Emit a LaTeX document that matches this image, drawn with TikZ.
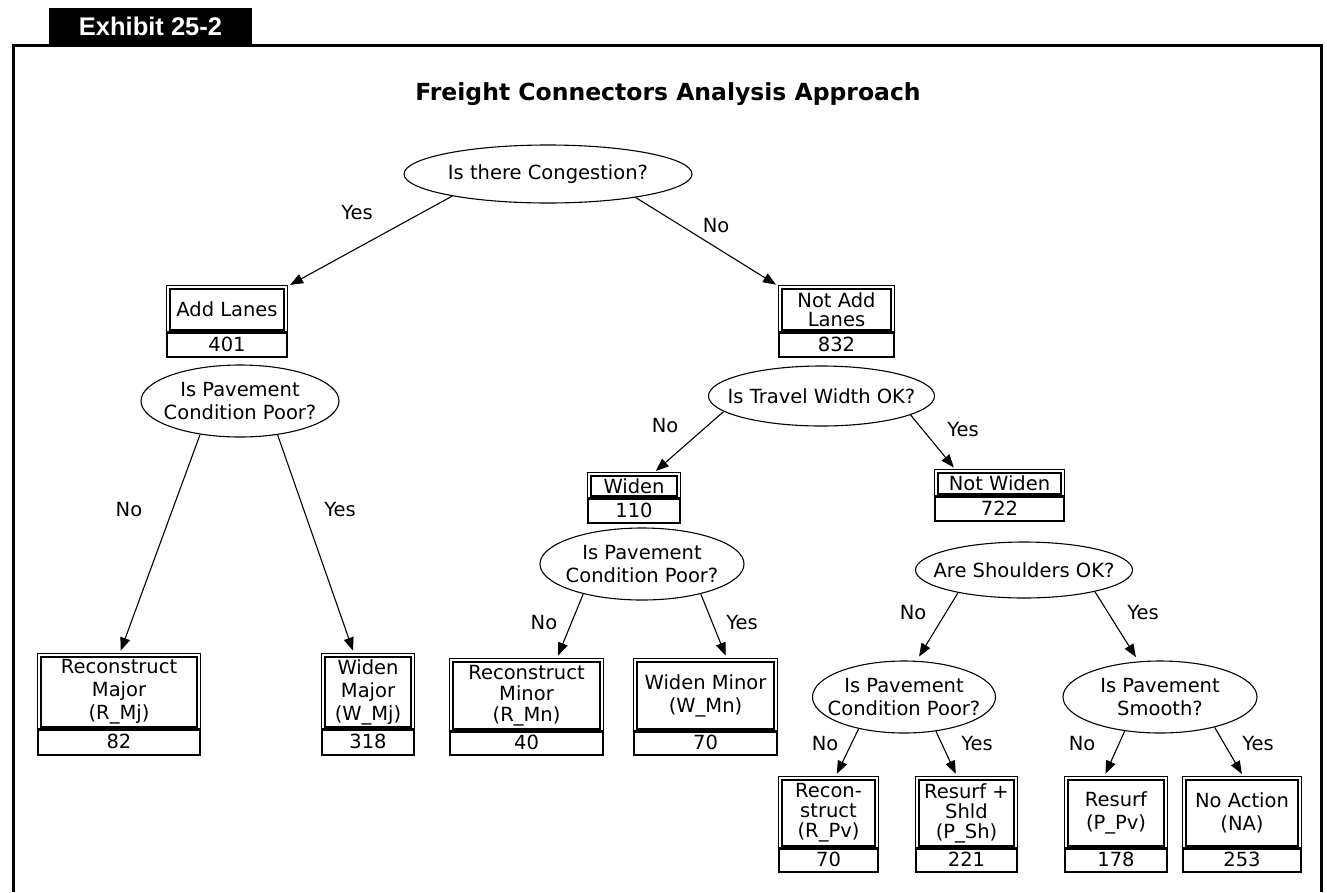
\documentclass[tikz,border=0pt]{standalone}
\usepackage{fontspec}
\setmainfont{DejaVu Sans}
\newfontfamily\exhibitfont{Liberation Sans}
\usepackage{tikz}
\usetikzlibrary{shapes.geometric,arrows.meta,positioning}

\begin{document}
\begin{tikzpicture}[
        x=1pt, y=-1pt,
        font=\fontsize{19.5}{23}\selectfont,
        outcome/.style 2 args={rectangle, draw, line width=1.4pt, double, double distance=1.8pt, align=center, inner sep=0pt, outer sep=0pt, minimum width=#1, minimum height=#2},
        count/.style={rectangle, draw, line width=1.6pt, inner sep=0pt, outer sep=0pt, minimum width=#1},
        question/.style 2 args={ellipse, draw, line width=1.1pt, align=center, inner xsep=-15pt, inner ysep=-4pt, minimum width=#1, minimum height=#2},
        lbl/.style={inner sep=0pt},
        arrow/.style={-{Triangle[length=13pt,width=10pt]}, line width=1.1pt, shorten >=5pt}
    ]
        \useasboundingbox (0,0) rectangle (1327,892);

        % frame and heading
        \draw[line width=3pt] (13,892) -- (13,45) -- (1321,45) -- (1321,892);
        \node[fill=black, text=white, font=\exhibitfont\bfseries\fontsize{25.5}{30}\selectfont, minimum width=203pt, minimum height=37pt, inner sep=0pt] (exhibit) at (150.5,26.5) {Exhibit 25-2};
        \node[font=\bfseries\fontsize{23.5}{28}\selectfont] (title) at (668,94) {Freight Connectors Analysis Approach};

        % congestion
        \node[question={288pt}{58pt}] (cong) at (548,174) {Is there Congestion?};
        \node[outcome={117.4pt}{44.4pt}] (addl) at (227,309.5) {Add Lanes};
        \node[count=120.4pt, minimum height=25pt, below=0pt of addl] (n401) {401};
        \node[outcome={112.4pt}{44.4pt}, font=\fontsize{19.5}{18.5}\selectfont] (notadd) at (836.5,309.5) {Not Add\\Lanes};
        \node[count=115.4pt, minimum height=25pt, below=0pt of notadd] (n832) {832};

        % add lanes branch
        \node[question={198pt}{72pt}] (pavL) at (240,401) {Is Pavement\\Condition Poor?};
        \node[outcome={159.4pt}{73.4pt}] (recmaj) at (119,692) {Reconstruct\\Major\\(R\_Mj)};
        \node[count=162.4pt, minimum height=26pt, below=0pt of recmaj] (n82) {82};
        \node[outcome={89.4pt}{73.4pt}] (widmaj) at (368,692) {Widen\\Major\\(W\_Mj)};
        \node[count=92.4pt, minimum height=26pt, below=0pt of widmaj] (n318) {318};

        % travel width
        \node[question={226pt}{60pt}] (width) at (821.5,396) {Is Travel Width OK?};
        \node[outcome={89.4pt}{23.4pt}] (widen) at (634,486) {Widen};
        \node[count=92.4pt, minimum height=25pt, below=0pt of widen] (n110) {110};
        \node[outcome={126.4pt}{24.4pt}] (notwiden) at (999.5,483.5) {Not Widen};
        \node[count=129.4pt, minimum height=25pt, below=0pt of notwiden] (n722) {722};

        % widen branch
        \node[question={204pt}{72pt}] (pavM) at (642,564) {Is Pavement\\Condition Poor?};
        \node[outcome={150.4pt}{70.4pt}, font=\fontsize{19.5}{21}\selectfont] (recmin) at (526.5,695.5) {Reconstruct\\Minor\\(R\_Mn)};
        \node[count=153.4pt, minimum height=24pt, below=0pt of recmin] (n40) {40};
        \node[outcome={140.4pt}{70.4pt}] (widmin) at (705.5,695.5) {Widen Minor\\(W\_Mn)};
        \node[count=143.4pt, minimum height=24pt, below=0pt of widmin] (n70a) {70};

        % shoulders
        \node[question={217pt}{56pt}] (shoulders) at (1024,570) {Are Shoulders OK?};
        \node[question={183pt}{72pt}] (pavR) at (904,697) {Is Pavement\\Condition Poor?};
        \node[question={194pt}{72pt}] (pavS) at (1160,697) {Is Pavement\\Smooth?};
        \node[outcome={96.4pt}{69.4pt}, font=\fontsize{19.5}{20}\selectfont] (recon) at (828.5,813) {Recon-\\struct\\(R\_Pv)};
        \node[count=99.4pt, minimum height=24pt, below=0pt of recon] (n70b) {70};
        \node[outcome={98.4pt}{69.4pt}, font=\fontsize{19.5}{20}\selectfont] (resshld) at (966.5,813) {Resurf +\\Shld\\(P\_Sh)};
        \node[count=101.4pt, minimum height=24pt, below=0pt of resshld] (n221) {221};
        \node[outcome={99.4pt}{69.4pt}] (resurf) at (1116,813) {Resurf\\(P\_Pv)};
        \node[count=102.4pt, minimum height=24pt, below=0pt of resurf] (n178) {178};
        \node[outcome={115.4pt}{69.4pt}] (noact) at (1242,813) {No Action\\(NA)};
        \node[count=118.4pt, minimum height=24pt, below=0pt of noact] (n253) {253};

        % yes / no labels
        \node[lbl] (y1) at (357,213) {Yes};
        \node[lbl] (n1) at (716,226) {No};
        \node[lbl] (n2) at (129,510) {No};
        \node[lbl] (y2) at (340,510) {Yes};
        \node[lbl] (n3) at (665,426) {No};
        \node[lbl] (y3) at (963,430) {Yes};
        \node[lbl] (n4) at (544,623) {No};
        \node[lbl] (y4) at (742,623) {Yes};
        \node[lbl] (n5) at (913,613) {No};
        \node[lbl] (y5) at (1143,613) {Yes};
        \node[lbl] (n6) at (825,744) {No};
        \node[lbl] (y6) at (977,744) {Yes};
        \node[lbl] (n7) at (1082,744) {No};
        \node[lbl] (y7) at (1258,744) {Yes};

        % connectors
        \draw[arrow] (cong.193) -- (addl.north east);
        \draw[arrow] (cong.345) -- (notadd.north west);
        \draw[arrow] (pavL.220) -- (recmaj.north);
        \draw[arrow] (pavL.318) -- (widmaj.110);
        \draw[arrow] (width.189) -- (widen.33);
        \draw[arrow] (width.348) -- (notwiden.164);
        \draw[arrow] (pavM.207) -- (recmin.50);
        \draw[arrow] (pavM.333) -- (widmin.58);
        \draw[arrow] (shoulders.199) -- (pavR.71);
        \draw[arrow] (shoulders.343) -- (pavS.121);
        \draw[arrow] (pavR.215) -- (recon.80);
        \draw[arrow] (pavR.313) -- (resshld.104);
        \draw[arrow] (pavS.224) -- (resurf.110);
        \draw[arrow] (pavS.331) -- (noact.86);
    \end{tikzpicture}
\end{document}
